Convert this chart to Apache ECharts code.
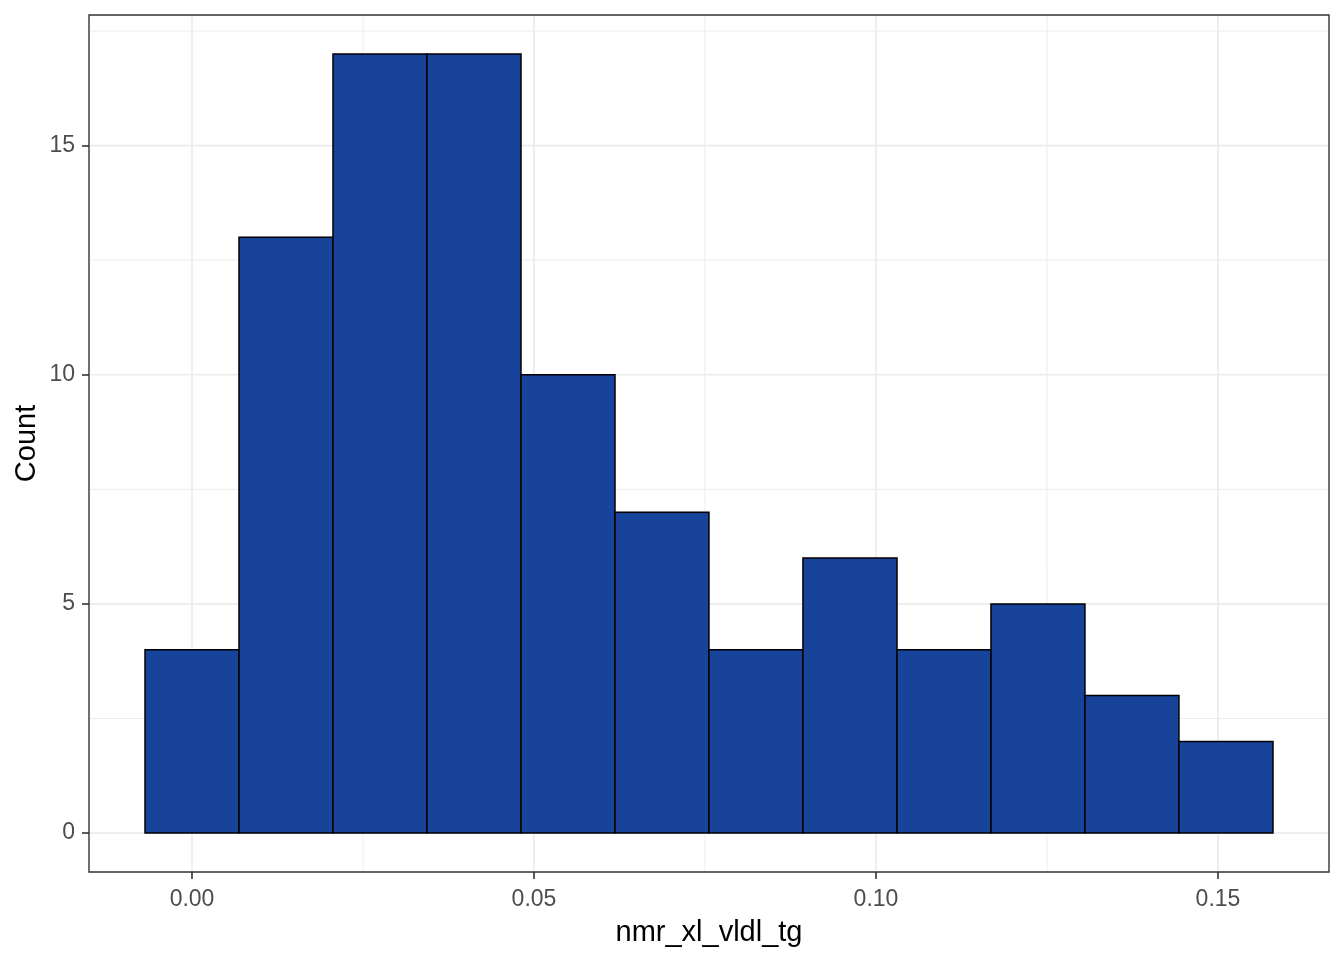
<!DOCTYPE html>
<html>
<head>
<meta charset="utf-8">
<script src="https://cdn.jsdelivr.net/npm/echarts@6/dist/echarts.min.js"></script>
<style>
html,body{margin:0;padding:0;background:#fff;}
#chart{width:1344px;height:960px;}
</style>
</head>
<body>
<div id="chart"></div>
<script>
// Histogram bin edges (nmr_xl_vldl_tg) and counts
const binEdges = [-0.00687, 0.00687, 0.02061, 0.03435, 0.04810, 0.06184, 0.07558, 0.08932, 0.10307, 0.11681, 0.13055, 0.14429, 0.15804];
const counts = [4, 13, 17, 17, 10, 7, 4, 6, 4, 5, 3, 2];

// Axis ticks / grid values
const xMajorTicks = [0.00, 0.05, 0.10, 0.15];
const xMinorTicks = [0.025, 0.075, 0.125];
const yMajorTicks = [0, 5, 10, 15];
const yMinorTicks = [2.5, 7.5, 12.5, 17.5];
const xRange = [-0.01506, 0.16623];
const yRange = [-0.85, 17.85];

const xTitle = 'nmr_xl_vldl_tg';
const yTitle = 'Count';

const FONT = '"Liberation Sans", Arial, "DejaVu Sans", sans-serif';

const barData = counts.map((c, i) => [binEdges[i], binEdges[i + 1], c]);
// [direction (0 = vertical line at x, 1 = horizontal line at y), value, isMajor]
const gridData = []
  .concat(xMinorTicks.map(v => [0, v, 0]))
  .concat(yMinorTicks.map(v => [1, v, 0]))
  .concat(xMajorTicks.map(v => [0, v, 1]))
  .concat(yMajorTicks.map(v => [1, v, 1]));

const chart = echarts.init(document.getElementById('chart'), null, {renderer: 'canvas'});

chart.setOption({
  animation: false,
  backgroundColor: '#ffffff',
  grid: {
    left: 89, top: 15, width: 1240, height: 857,
    show: true, borderColor: '#333333', borderWidth: 1.4,
    backgroundColor: 'transparent',
    containLabel: false,
    outerBoundsMode: 'none'
  },
  xAxis: {
    type: 'value',
    min: xRange[0], max: xRange[1],
    axisLine: {show: false, onZero: false},
    splitLine: {show: false},
    axisTick: {show: true, customValues: xMajorTicks, length: 7, lineStyle: {color: '#333333', width: 1.6}},
    axisLabel: {
      show: true, customValues: xMajorTicks, margin: 16,
      color: '#4D4D4D', fontSize: 23, fontFamily: FONT,
      formatter: v => Number(v).toFixed(2)
    },
    name: xTitle, nameLocation: 'middle', nameGap: 46, nameMoveOverlap: false,
    nameTextStyle: {color: '#000000', fontSize: 29, fontFamily: FONT}
  },
  yAxis: {
    type: 'value',
    min: yRange[0], max: yRange[1],
    axisLine: {show: false, onZero: false},
    splitLine: {show: false},
    axisTick: {show: true, customValues: yMajorTicks, length: 7, lineStyle: {color: '#333333', width: 1.6}},
    axisLabel: {
      show: true, customValues: yMajorTicks, margin: 14,
      color: '#4D4D4D', fontSize: 23, fontFamily: FONT,
      formatter: v => String(v)
    },
    name: yTitle, nameLocation: 'middle', nameGap: 48, nameRotate: 90, nameMoveOverlap: false,
    nameTextStyle: {color: '#000000', fontSize: 29, fontFamily: FONT}
  },
  series: [
    {
      type: 'custom',
      name: 'grid',
      silent: true,
      z: 1,
      data: gridData,
      renderItem: function (params, api) {
        const cs = params.coordSys;
        const dir = api.value(0);
        const v = api.value(1);
        const major = api.value(2) === 1;
        const w = major ? 1.7 : 0.9;
        let shape;
        if (dir === 0) {
          const px = api.coord([v, 0])[0];
          shape = {x1: px, y1: cs.y + 1, x2: px, y2: cs.y + cs.height - 1};
        } else {
          const py = api.coord([0, v])[1];
          shape = {x1: cs.x + 1, y1: py, x2: cs.x + cs.width - 1, y2: py};
        }
        return {type: 'line', shape: shape, style: {stroke: '#EBEBEB', lineWidth: w}};
      },
      encode: {x: 1}
    },
    {
      type: 'custom',
      name: 'count',
      z: 3,
      data: barData,
      renderItem: function (params, api) {
        const p0 = api.coord([api.value(0), 0]);
        const p1 = api.coord([api.value(1), api.value(2)]);
        return {
          type: 'rect',
          shape: {x: p0[0], y: p1[1], width: p1[0] - p0[0], height: p0[1] - p1[1]},
          style: {fill: '#17439B', stroke: '#000000', lineWidth: 1.5}
        };
      },
      encode: {x: [0, 1], y: 2}
    }
  ]
});
</script>
</body>
</html>
